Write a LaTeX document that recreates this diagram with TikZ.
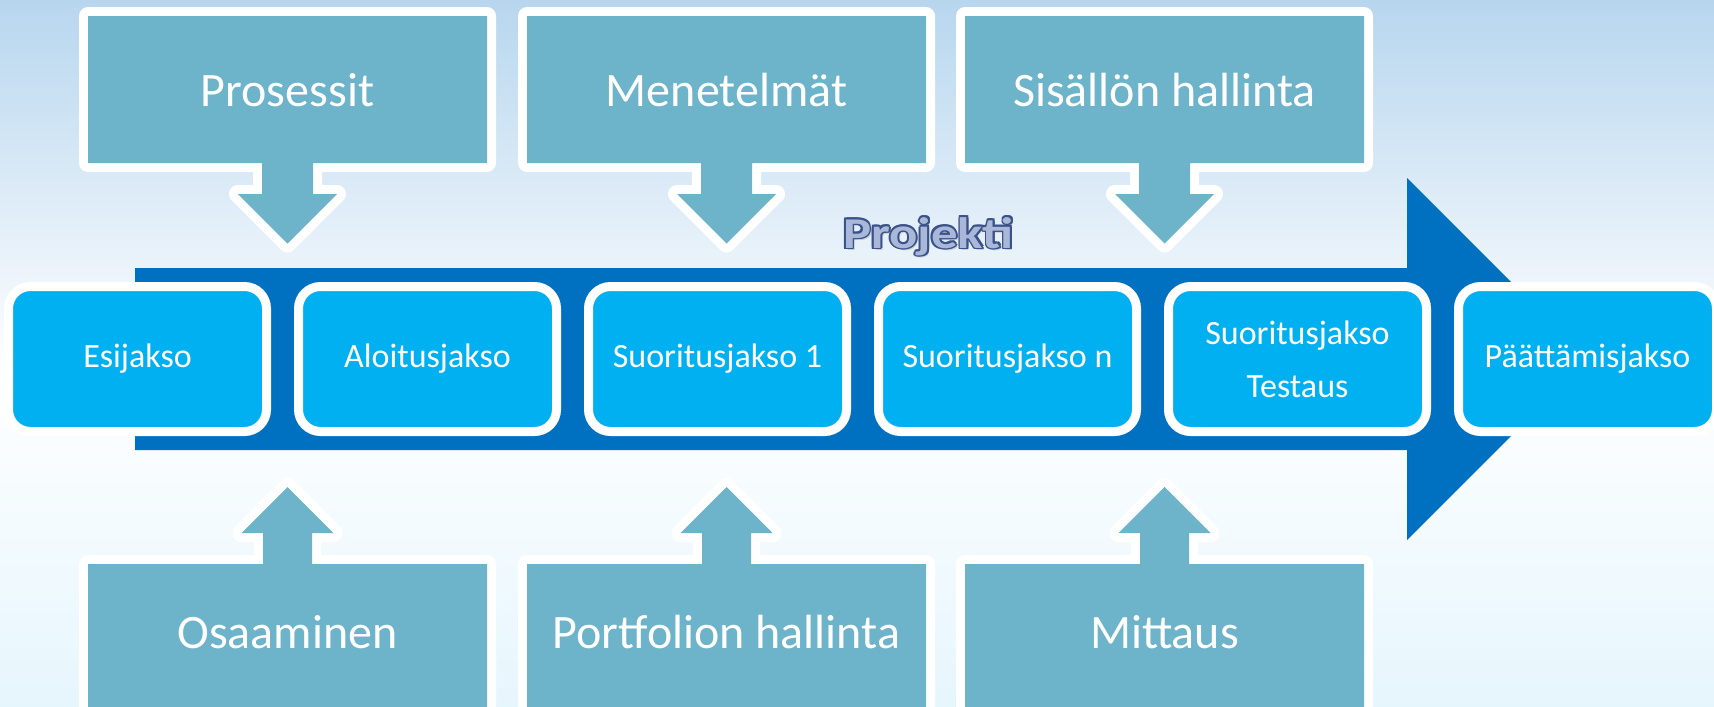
\documentclass[tikz,border=0pt]{standalone}
\usepackage{fontspec}
\usepackage{graphicx}
\setmainfont{Carlito}
\definecolor{calloutfill}{HTML}{6DB3CA}
\definecolor{phasefill}{HTML}{00B0F0}
\definecolor{bigarrow}{HTML}{0070C0}
\definecolor{bgtop}{HTML}{B7D6EE}
\definecolor{bgbot}{HTML}{E6F6FD}
\definecolor{projfill}{HTML}{A9B8D9}
\definecolor{projline}{HTML}{3A5189}

\newcommand\downcallout[3]{%
  \path[calloutbody]
    (#2-199.5,16) -- (#2+199.5,16) -- (#2+199.5,163) -- (#2+25.5,163)
    -- (#2+25.5,194) -- (#2+49.5,194) -- (#2,243.5) -- (#2-49.5,194)
    -- (#2-25.5,194) -- (#2-25.5,163) -- (#2-199.5,163) -- cycle;
  \node[callouttext] (#1) at (#2,106.7) {#3};
}
\newcommand\upcallout[3]{%
  \path[calloutbody]
    (#2-199.5,760) -- (#2-199.5,564) -- (#2-24.5,564) -- (#2-24.5,533)
    -- (#2-46,533) -- (#2,487) -- (#2+46,533) -- (#2+24.5,533)
    -- (#2+24.5,564) -- (#2+199.5,564) -- (#2+199.5,760) -- cycle;
  \node[callouttext] (#1) at (#2,648.3) {#3};
}

\begin{document}
\begin{tikzpicture}[x=1pt,y=-1pt,
  phasebox/.style={draw=white, line width=9pt, fill=phasefill,
    rounded corners=22pt, minimum width=258pt, minimum height=145pt,
    inner sep=0pt, text=white, font=\fontsize{34}{53}\selectfont, align=center},
  callouttext/.style={text=white, font=\fontsize{48}{58}\selectfont,
    anchor=base, inner sep=0pt},
  calloutbody/.style={fill=calloutfill,
    preaction={draw=white, line width=18pt, line join=round}},
  projtext/.style={anchor=base, inner sep=0pt,
    font=\fontsize{44}{46}\selectfont\bfseries}
]
\useasboundingbox (0,0) rectangle (1714,707);
\begin{scope}
\clip (0,0) rectangle (1714,707);
% background
\shade[top color=bgtop, bottom color=white] (0,0) rectangle (1714,370);
\shade[top color=white, bottom color=bgbot] (0,369) rectangle (1714,707);

% big project arrow
\fill[bigarrow] (135,268) -- (1407,268) -- (1407,178) -- (1588,359)
  -- (1407,540) -- (1407,450) -- (135,450) -- cycle;

% callouts
\downcallout{prosessit}{287.5}{Prosessit}
\downcallout{menetelmat}{726.5}{Menetelmät}
\downcallout{sisallon}{1164.5}{Sisällön hallinta}
\upcallout{osaaminen}{287.5}{Osaaminen}
\upcallout{portfolio}{726.5}{Portfolion hallinta}
\upcallout{mittaus}{1164.5}{Mittaus}

% phases
\node[phasebox] (p1) at (137.5,359) {Esijakso};
\node[phasebox] (p2) at (427.5,359) {Aloitusjakso};
\node[phasebox] (p3) at (717.5,359) {Suoritusjakso 1};
\node[phasebox] (p4) at (1007.5,359) {Suoritusjakso n};
\node[phasebox] (p5) at (1297.5,359) {Suoritusjakso\\Testaus};
\node[phasebox] (p6) at (1587.5,359) {Päättämisjakso};

% Projekti word art (outlined text)
\node[projtext, text=black, opacity=0.15] (projshadow) at (930.5,250.5) {\scalebox{1.2}[1]{Projekti}};
\foreach \a in {0,45,...,315}
  \node[projtext, text=projline] (projo\a) at ([shift={(\a:1.8)}]928.5,248) {\scalebox{1.2}[1]{Projekti}};
\node[projtext, text=projfill] (proj) at (928.5,248) {\scalebox{1.2}[1]{Projekti}};
\end{scope}
\end{tikzpicture}
\end{document}
